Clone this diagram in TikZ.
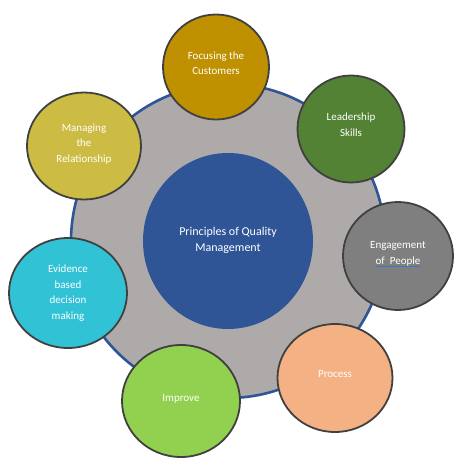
\documentclass[tikz,border=0pt]{standalone}
\usepackage{fontspec}
\setmainfont{Carlito}
\usepackage{xcolor}
\usepackage{tikz}
\usetikzlibrary{shapes.geometric}
\definecolor{qmblue}{RGB}{47,85,151}
\definecolor{qmring}{RGB}{174,170,170}
\definecolor{qmedge}{RGB}{64,64,64}
\definecolor{qmgold}{RGB}{191,144,0}
\definecolor{qmgreen}{RGB}{84,130,53}
\definecolor{qmgrey}{RGB}{127,127,127}
\definecolor{qmpeach}{RGB}{244,177,131}
\definecolor{qmlime}{RGB}{146,208,80}
\definecolor{qmcyan}{RGB}{50,194,214}
\definecolor{qmolive}{RGB}{204,188,68}
\definecolor{qmline}{RGB}{68,114,196}
\newcommand\qmunder[1]{\setbox0\hbox{#1}\rlap{\color{qmline}\rule[-2.4pt]{\wd0}{1pt}}\box0}

\begin{document}
\begin{tikzpicture}[x=1pt, y=-1pt,
  ring/.style={circle, draw=qmblue, line width=2.6pt, fill=qmring,
               minimum size=314pt, inner sep=0pt},
  hub/.style={ellipse, fill=qmblue, minimum width=170pt, minimum height=176pt,
              text=white, align=center, font=\fontsize{12}{16}\selectfont},
  pr/.style={ellipse, draw=qmedge, line width=1.8pt, text=white, align=center,
             inner sep=0pt, font=\fontsize{11}{15.5}\selectfont}]

\useasboundingbox (0,0) rectangle (461,469);

\node[ring] (rg) at (228,241) {};
\node[hub] (pqm) at (228,241) {Principles of Quality\\Management\\[-12pt]};

\node[pr, fill=qmgold, minimum width=106pt, minimum height=105pt] (foc) at (216,67) {Focusing the\\Customers\\[-7.5pt]};
\node[pr, fill=qmgreen, minimum width=107pt, minimum height=107pt] (lead) at (351,129) {Leadership\\Skills\\[-6.5pt]};
\node[pr, fill=qmgrey, minimum width=110pt, minimum height=108pt] (eng) at (398,256) {Engagement\\\qmunder{of~ People}\\[-9.5pt]};
\node[pr, fill=qmpeach, minimum width=115pt, minimum height=108pt] (proc) at (335,378) {Process\\[-7.5pt]};
\node[pr, fill=qmlime, minimum width=118pt, minimum height=112pt] (imp) at (181,401) {Improve\\[-9.5pt]};
\node[pr, fill=qmcyan, minimum width=118pt, minimum height=110pt] (evid) at (68,293) {Evidence\\based\\decision\\making};
\node[pr, fill=qmolive, minimum width=114pt, minimum height=107pt] (mgr) at (84,146) {Managing\\the\\Relationship\\[-9.5pt]};
\end{tikzpicture}
\end{document}
